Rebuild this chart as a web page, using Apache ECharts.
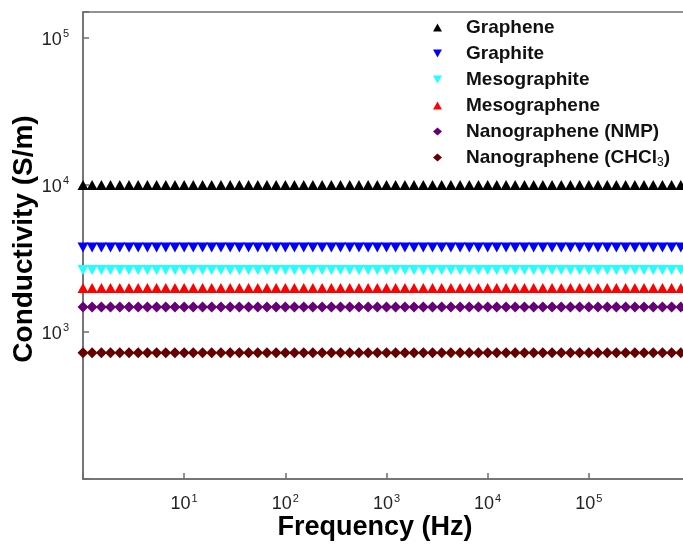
<!DOCTYPE html>
<html><head><meta charset="utf-8">
<script src="https://cdn.jsdelivr.net/npm/echarts@6/dist/echarts.min.js"></script>
<style>html,body{margin:0;padding:0;background:#fff}#c{width:683px;height:546px}</style>
</head><body><div id="c"></div>
<script>
// Frequency points (Hz), ~11 per decade, log spaced
const freq = [
  1, 1.23, 1.52, 1.87, 2.31, 2.85, 3.51, 4.33, 5.34, 6.58, 8.11,
  10, 12.3, 15.2, 18.7, 23.1, 28.5, 35.1, 43.3, 53.4, 65.8, 81.1,
  100, 123, 152, 187, 231, 285, 351, 433, 534, 658, 811,
  1000, 1230, 1520, 1870, 2310, 2850, 3510, 4330, 5340, 6580, 8110,
  10000, 12300, 15200, 18700, 23100, 28500, 35100, 43300, 53400, 65800, 81100,
  100000, 123000, 152000, 187000, 231000, 285000, 351000, 433000, 534000, 658000, 811000,
  1000000
];
const graphene = [
  10000,10000,10000,10000,10000,10000,10000,10000,10000,10000,10000,
  10000,10000,10000,10000,10000,10000,10000,10000,10000,10000,10000,
  10000,10000,10000,10000,10000,10000,10000,10000,10000,10000,10000,
  10000,10000,10000,10000,10000,10000,10000,10000,10000,10000,10000,
  10000,10000,10000,10000,10000,10000,10000,10000,10000,10000,10000,
  10000,10000,10000,10000,10000,10000,10000,10000,10000,10000,10000,
  10000
];
const graphite = [
  3750,3750,3750,3750,3750,3750,3750,3750,3750,3750,3750,
  3750,3750,3750,3750,3750,3750,3750,3750,3750,3750,3750,
  3750,3750,3750,3750,3750,3750,3750,3750,3750,3750,3750,
  3750,3750,3750,3750,3750,3750,3750,3750,3750,3750,3750,
  3750,3750,3750,3750,3750,3750,3750,3750,3750,3750,3750,
  3750,3750,3750,3750,3750,3750,3750,3750,3750,3750,3750,
  3750
];
const mesographite = [
  2640,2640,2640,2640,2640,2640,2640,2640,2640,2640,2640,
  2640,2640,2640,2640,2640,2640,2640,2640,2640,2640,2640,
  2640,2640,2640,2640,2640,2640,2640,2640,2640,2640,2640,
  2640,2640,2640,2640,2640,2640,2640,2640,2640,2640,2640,
  2640,2640,2640,2640,2640,2640,2640,2640,2640,2640,2640,
  2640,2640,2640,2640,2640,2640,2640,2640,2640,2640,2640,
  2640
];
const mesographene = [
  1990,1990,1990,1990,1990,1990,1990,1990,1990,1990,1990,
  1990,1990,1990,1990,1990,1990,1990,1990,1990,1990,1990,
  1990,1990,1990,1990,1990,1990,1990,1990,1990,1990,1990,
  1990,1990,1990,1990,1990,1990,1990,1990,1990,1990,1990,
  1990,1990,1990,1990,1990,1990,1990,1990,1990,1990,1990,
  1990,1990,1990,1990,1990,1990,1990,1990,1990,1990,1990,
  1990
];
const nanoNMP = [
  1480,1480,1480,1480,1480,1480,1480,1480,1480,1480,1480,
  1480,1480,1480,1480,1480,1480,1480,1480,1480,1480,1480,
  1480,1480,1480,1480,1480,1480,1480,1480,1480,1480,1480,
  1480,1480,1480,1480,1480,1480,1480,1480,1480,1480,1480,
  1480,1480,1480,1480,1480,1480,1480,1480,1480,1480,1480,
  1480,1480,1480,1480,1480,1480,1480,1480,1480,1480,1480,
  1480
];
const nanoCHCl3 = [
  723,723,723,723,723,723,723,723,723,723,723,
  723,723,723,723,723,723,723,723,723,723,723,
  723,723,723,723,723,723,723,723,723,723,723,
  723,723,723,723,723,723,723,723,723,723,723,
  723,723,723,723,723,723,723,723,723,723,723,
  723,723,723,723,723,723,723,723,723,723,723,
  723
];
const seriesNames = ['Graphene','Graphite','Mesographite','Mesographene','Nanographene (NMP)','Nanographene (CHCl3)'];
const seriesValues = [graphene, graphite, mesographite, mesographene, nanoNMP, nanoCHCl3];
const seriesColors = ['#000000','#0000ff','#22ffff','#ff0000','#660077','#660000'];
const downTri = 'path://M0,0L10,0L5,9Z';
const upTri = 'path://M5,0L10,9L0,9Z';
const seriesSymbols = [upTri, downTri, downTri, upTri, 'diamond', 'diamond'];
const seriesSizes = [[11,10],[11,10],[11,10],[11,10],[11,11],[11,11]];

const FONT = '"Liberation Sans", Arial, Helvetica, sans-serif';
const chart = echarts.init(document.getElementById('c'), null, {renderer:'canvas'});

function pow10Label(v, hide) {
  const l = Math.log10(v);
  const e = Math.round(l);
  if (Math.abs(l - e) > 1e-6) return '';
  if (hide.indexOf(e) >= 0) return '';
  return '{b|10}{s|' + e + '}';
}
const labelRich = {
  b: {fontSize: 18, fontFamily: FONT, color: '#222', lineHeight: 18, padding: [5,0,0,0]},
  s: {fontSize: 11, fontFamily: FONT, color: '#222', lineHeight: 11, verticalAlign: 'top', padding: [0,0,0,1]}
};
const axisLineStyle = {color: '#6e6e6e', width: 1.5};

const series = seriesNames.map((n, i) => ({
  name: n,
  type: 'scatter',
  symbol: seriesSymbols[i],
  symbolSize: seriesSizes[i],
  itemStyle: {color: seriesColors[i], opacity: 1},
  data: freq.map((f, j) => [f, seriesValues[i][j]]),
  clip: false
}));

chart.setOption({
  animation: false,
  backgroundColor: '#fff',
  grid: {left: 83, top: 12, width: 607, bottom: 67, outerBoundsMode: 'none', containLabel: false, show: true, borderColor: '#6e6e6e', borderWidth: 1.5, backgroundColor: 'transparent'},
  xAxis: {
    type: 'log', logBase: 10, min: 1, max: 1000000,
    axisLine: {show: true, lineStyle: axisLineStyle},
    axisTick: {show: true, inside: true, length: 6, lineStyle: axisLineStyle},
    minorTick: {show: false},
    splitLine: {show: false},
    axisLabel: {margin: 14, formatter: v => pow10Label(v, [0, 6]), rich: labelRich}
  },
  yAxis: {
    type: 'log', logBase: 10, min: 100, max: 150000,
    axisLine: {show: true, lineStyle: axisLineStyle},
    axisTick: {show: true, inside: true, length: 6, lineStyle: axisLineStyle},
    splitLine: {show: false},
    axisLabel: {margin: 14, formatter: v => pow10Label(v, [2]), rich: labelRich}
  },
  legend: {
    orient: 'vertical', left: 428, top: 13, itemGap: 7, itemWidth: 9, itemHeight: 8,
    data: seriesNames.map((n, i) => ({name: n, icon: seriesSymbols[i]})),
    formatter: n => n === 'Nanographene (CHCl3)' ? 'Nanographene (CHCl{sub|3})' : n,
    textStyle: {
      fontFamily: FONT, fontSize: 19, fontWeight: 'bold', color: '#111', padding: [0,0,0,19],
      rich: {sub: {fontFamily: FONT, fontSize: 12, fontWeight: 'normal', color: '#111', verticalAlign: 'bottom', padding: [10,0,0,0]}}
    }
  },
  graphic: [
    {type: 'text', x: 375, y: 528, style: {text: 'Frequency (Hz)', font: 'bold 27px ' + FONT, fill: '#000', textAlign: 'center', textVerticalAlign: 'middle'}},
    {type: 'text', x: 24, y: 239, rotation: Math.PI / 2, style: {text: 'Conductivity (S/m)', font: 'bold 28px ' + FONT, fill: '#000', textAlign: 'center', textVerticalAlign: 'middle'}}
  ],
  series: series
});
</script></body></html>
